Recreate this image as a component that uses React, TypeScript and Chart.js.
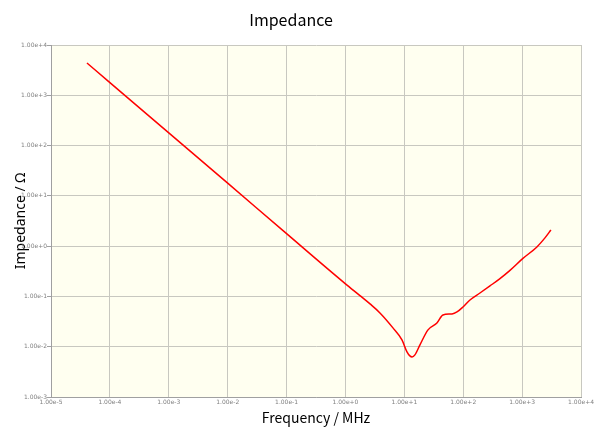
import React, { useEffect, useRef } from "react";
import { Chart, registerables } from "chart.js";

Chart.register(...registerables);

const freqMHz = [
  4.08e-5, 1.0e-4, 1.0e-3, 1.0e-2, 1.0e-1, 1.0, 1.76, 2.61, 3.85, 6.4, 9.1, 11.07, 12.4, 13.5,
  15.1, 18.4, 25.2, 35.7, 45.2, 64.3, 78.2, 98.9, 130, 192, 284, 420, 621, 1030, 1780, 2440, 3080,
];
const impedance = [
  4385, 1790, 179, 17.9, 1.77, 0.178, 0.104, 0.071, 0.047, 0.0237, 0.0137, 0.00788, 0.00656,
  0.00627, 0.00687, 0.0109, 0.0216, 0.0297, 0.0429, 0.0449, 0.0492, 0.0618, 0.0851, 0.117, 0.162,
  0.226, 0.33, 0.57, 0.964, 1.46, 2.1,
];
const xTicks = [1e-5, 1e-4, 1e-3, 1e-2, 1e-1, 1e0, 1e1, 1e2, 1e3, 1e4];
const yTicks = [1e-3, 1e-2, 1e-1, 1e0, 1e1, 1e2, 1e3, 1e4];

const fmt = (v: number) => v.toExponential(2);

const bgPlugin = {
  id: "plotBg",
  beforeDraw(chart: any) {
    const { ctx, chartArea } = chart;
    ctx.save();
    ctx.fillStyle = "#fffff0";
    ctx.fillRect(chartArea.left, chartArea.top, chartArea.right - chartArea.left, chartArea.bottom - chartArea.top);
    ctx.restore();
  },
};

export default function App() {
  const ref = useRef<HTMLCanvasElement | null>(null);
  useEffect(() => {
    if (!ref.current) return;
    const data = freqMHz.map((f, i) => ({ x: f, y: impedance[i] }));
    const chart = new Chart(ref.current, {
      type: "line",
      data: {
        datasets: [
          {
            data,
            borderColor: "#ff0000",
            borderWidth: 1.5,
            pointRadius: 0,
            cubicInterpolationMode: "monotone",
            fill: false,
          },
        ],
      },
      plugins: [bgPlugin],
      options: {
        responsive: false,
        animation: false,
        layout: { padding: { left: 0, right: 14, top: 0, bottom: 0 } },
        plugins: {
          legend: { display: false },
          tooltip: { enabled: false },
          title: {
            display: true,
            text: "Impedance",
            color: "#000",
            font: { family: "'Noto Sans CJK JP'", size: 16, weight: "normal" },
            padding: { top: 10, bottom: 15.8 },
          },
        },
        scales: {
          x: {
            type: "logarithmic",
            min: 1e-5,
            max: 1e4,
            afterBuildTicks: (s: any) => {
              s.ticks = xTicks.map((v) => ({ value: v }));
            },
            afterFit: (s: any) => {
              s.height = 31;
            },
            ticks: {
              autoSkip: false,
              maxRotation: 0,
              padding: 2,
              color: "#808080",
              font: { family: "'DejaVu Sans'", size: 6 },
              callback: (v: any) => fmt(Number(v)),
            },
            grid: { color: "#c8c8c0", drawTicks: false },
            border: { color: "#a0a0a0" },
            title: {
              display: true,
              text: "Frequency / MHz",
              color: "#000",
              font: { family: "'Noto Sans CJK JP'", size: 14 },
              padding: { top: 0, bottom: 1.6 },
            },
          },
          y: {
            type: "logarithmic",
            min: 1e-3,
            max: 1e4,
            afterBuildTicks: (s: any) => {
              s.ticks = yTicks.map((v) => ({ value: v }));
            },
            afterFit: (s: any) => {
              s.width = 51;
            },
            ticks: {
              autoSkip: false,
              padding: 0,
              color: "#808080",
              font: { family: "'DejaVu Sans'", size: 6 },
              callback: (v: any) => fmt(Number(v)),
            },
            grid: { color: "#c8c8c0", tickLength: 4, tickColor: "#a0a0a0" },
            border: { color: "#a0a0a0" },
            title: {
              display: true,
              text: "Impedance / Ω",
              color: "#000",
              font: { family: "'Noto Sans', 'Noto Sans CJK JP'", size: 14 },
              padding: { top: 12.6, bottom: 0 },
            },
          },
        },
      } as any,
    });
    return () => chart.destroy();
  }, []);
  return (
    <canvas
      ref={ref}
      width={596}
      height={428}
      style={{ position: "absolute", left: 0, top: 0, display: "block", background: "#fff" }}
    />
  );
}
